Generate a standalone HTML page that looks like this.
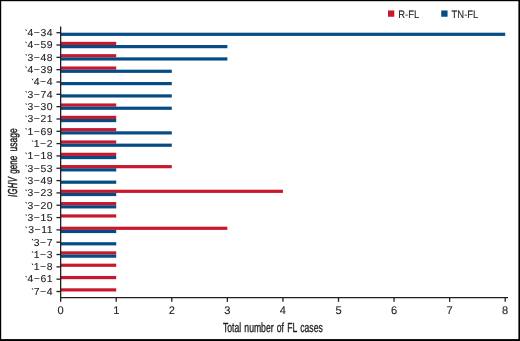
<!DOCTYPE html>
<html><head><meta charset="utf-8"><title>IGHV gene usage</title>
<style>
html,body{margin:0;padding:0;background:#fff;}
body{width:520px;height:341px;overflow:hidden;font-family:"Liberation Sans",sans-serif;}
svg{display:block;will-change:transform;}
text{font-family:"Liberation Sans",sans-serif;fill:#231f20;stroke:#231f20;stroke-width:0.12px;text-rendering:geometricPrecision;}
text.ttl{stroke-width:0.35px;vector-effect:non-scaling-stroke;}
</style></head><body>
<svg width="520" height="341" viewBox="0 0 520 341">
<rect x="0" y="0" width="520" height="341" fill="#ffffff"/>
<g shape-rendering="auto">
<rect x="60.65" y="32.70" width="444.55" height="3.20" fill="#064c84"/>
<rect x="60.65" y="41.82" width="55.57" height="3.20" fill="#c8182e"/>
<rect x="60.65" y="45.02" width="166.71" height="3.20" fill="#064c84"/>
<rect x="60.65" y="54.15" width="55.57" height="3.20" fill="#c8182e"/>
<rect x="60.65" y="57.35" width="166.71" height="3.20" fill="#064c84"/>
<rect x="60.65" y="66.47" width="55.57" height="3.20" fill="#c8182e"/>
<rect x="60.65" y="69.67" width="111.14" height="3.20" fill="#064c84"/>
<rect x="60.65" y="82.00" width="111.14" height="3.20" fill="#064c84"/>
<rect x="60.65" y="94.32" width="111.14" height="3.20" fill="#064c84"/>
<rect x="60.65" y="103.44" width="55.57" height="3.20" fill="#c8182e"/>
<rect x="60.65" y="106.64" width="111.14" height="3.20" fill="#064c84"/>
<rect x="60.65" y="115.77" width="55.57" height="3.20" fill="#c8182e"/>
<rect x="60.65" y="118.97" width="55.57" height="3.20" fill="#064c84"/>
<rect x="60.65" y="128.09" width="55.57" height="3.20" fill="#c8182e"/>
<rect x="60.65" y="131.29" width="111.14" height="3.20" fill="#064c84"/>
<rect x="60.65" y="140.41" width="55.57" height="3.20" fill="#c8182e"/>
<rect x="60.65" y="143.61" width="111.14" height="3.20" fill="#064c84"/>
<rect x="60.65" y="152.74" width="55.57" height="3.20" fill="#c8182e"/>
<rect x="60.65" y="155.94" width="55.57" height="3.20" fill="#064c84"/>
<rect x="60.65" y="165.06" width="111.14" height="3.20" fill="#c8182e"/>
<rect x="60.65" y="168.26" width="55.57" height="3.20" fill="#064c84"/>
<rect x="60.65" y="180.59" width="55.57" height="3.20" fill="#064c84"/>
<rect x="60.65" y="189.71" width="222.28" height="3.20" fill="#c8182e"/>
<rect x="60.65" y="192.91" width="55.57" height="3.20" fill="#064c84"/>
<rect x="60.65" y="202.03" width="55.57" height="3.20" fill="#c8182e"/>
<rect x="60.65" y="205.23" width="55.57" height="3.20" fill="#064c84"/>
<rect x="60.65" y="214.36" width="55.57" height="3.20" fill="#c8182e"/>
<rect x="60.65" y="226.68" width="166.71" height="3.20" fill="#c8182e"/>
<rect x="60.65" y="229.88" width="55.57" height="3.20" fill="#064c84"/>
<rect x="60.65" y="242.20" width="55.57" height="3.20" fill="#064c84"/>
<rect x="60.65" y="251.33" width="55.57" height="3.20" fill="#c8182e"/>
<rect x="60.65" y="254.53" width="55.57" height="3.20" fill="#064c84"/>
<rect x="60.65" y="263.65" width="55.57" height="3.20" fill="#c8182e"/>
<rect x="60.65" y="275.98" width="55.57" height="3.20" fill="#c8182e"/>
<rect x="60.65" y="288.30" width="55.57" height="3.20" fill="#c8182e"/>
</g>
<g stroke="#231f20" stroke-width="1.30" fill="none">
<line x1="60.65" y1="26.54" x2="60.65" y2="301.86"/>
<line x1="60.00" y1="297.66" x2="508.00" y2="297.66"/>
<line x1="56.45" y1="32.70" x2="60.65" y2="32.70"/>
<line x1="56.45" y1="45.02" x2="60.65" y2="45.02"/>
<line x1="56.45" y1="57.35" x2="60.65" y2="57.35"/>
<line x1="56.45" y1="69.67" x2="60.65" y2="69.67"/>
<line x1="56.45" y1="82.00" x2="60.65" y2="82.00"/>
<line x1="56.45" y1="94.32" x2="60.65" y2="94.32"/>
<line x1="56.45" y1="106.64" x2="60.65" y2="106.64"/>
<line x1="56.45" y1="118.97" x2="60.65" y2="118.97"/>
<line x1="56.45" y1="131.29" x2="60.65" y2="131.29"/>
<line x1="56.45" y1="143.61" x2="60.65" y2="143.61"/>
<line x1="56.45" y1="155.94" x2="60.65" y2="155.94"/>
<line x1="56.45" y1="168.26" x2="60.65" y2="168.26"/>
<line x1="56.45" y1="180.59" x2="60.65" y2="180.59"/>
<line x1="56.45" y1="192.91" x2="60.65" y2="192.91"/>
<line x1="56.45" y1="205.23" x2="60.65" y2="205.23"/>
<line x1="56.45" y1="217.56" x2="60.65" y2="217.56"/>
<line x1="56.45" y1="229.88" x2="60.65" y2="229.88"/>
<line x1="56.45" y1="242.20" x2="60.65" y2="242.20"/>
<line x1="56.45" y1="254.53" x2="60.65" y2="254.53"/>
<line x1="56.45" y1="266.85" x2="60.65" y2="266.85"/>
<line x1="56.45" y1="279.18" x2="60.65" y2="279.18"/>
<line x1="56.45" y1="291.50" x2="60.65" y2="291.50"/>
<line x1="116.22" y1="297.66" x2="116.22" y2="301.86"/>
<line x1="171.79" y1="297.66" x2="171.79" y2="301.86"/>
<line x1="227.36" y1="297.66" x2="227.36" y2="301.86"/>
<line x1="282.93" y1="297.66" x2="282.93" y2="301.86"/>
<line x1="338.49" y1="297.66" x2="338.49" y2="301.86"/>
<line x1="394.06" y1="297.66" x2="394.06" y2="301.86"/>
<line x1="449.63" y1="297.66" x2="449.63" y2="301.86"/>
<line x1="505.20" y1="297.66" x2="505.20" y2="301.86"/>
</g>
<g font-size="10.10" text-anchor="end" letter-spacing="0.50">
<text transform="translate(53.00 36.00) scale(1.030 1)">4&#8722;34</text>
<text transform="translate(53.00 48.32) scale(1.030 1)">4&#8722;59</text>
<text transform="translate(53.00 60.65) scale(1.030 1)">3&#8722;48</text>
<text transform="translate(53.00 72.97) scale(1.030 1)">4&#8722;39</text>
<text transform="translate(53.00 85.30) scale(1.030 1)">4&#8722;4</text>
<text transform="translate(53.00 97.62) scale(1.030 1)">3&#8722;74</text>
<text transform="translate(53.00 109.94) scale(1.030 1)">3&#8722;30</text>
<text transform="translate(53.00 122.27) scale(1.030 1)">3&#8722;21</text>
<text transform="translate(53.00 134.59) scale(1.030 1)">1&#8722;69</text>
<text transform="translate(53.00 146.91) scale(1.030 1)">1&#8722;2</text>
<text transform="translate(53.00 159.24) scale(1.030 1)">1&#8722;18</text>
<text transform="translate(53.00 171.56) scale(1.030 1)">3&#8722;53</text>
<text transform="translate(53.00 183.89) scale(1.030 1)">3&#8722;49</text>
<text transform="translate(53.00 196.21) scale(1.030 1)">3&#8722;23</text>
<text transform="translate(53.00 208.53) scale(1.030 1)">3&#8722;20</text>
<text transform="translate(53.00 220.86) scale(1.030 1)">3&#8722;15</text>
<text transform="translate(53.00 233.18) scale(1.030 1)">3&#8722;11</text>
<text transform="translate(53.00 245.50) scale(1.030 1)">3&#8722;7</text>
<text transform="translate(53.00 257.83) scale(1.030 1)">1&#8722;3</text>
<text transform="translate(53.00 270.15) scale(1.030 1)">1&#8722;8</text>
<text transform="translate(53.00 282.48) scale(1.030 1)">4&#8722;61</text>
<text transform="translate(53.00 294.80) scale(1.030 1)">7&#8722;4</text>
</g>
<g stroke="#231f20" stroke-width="1.00" opacity="0.95">
<line x1="25.80" y1="29.40" x2="26.45" y2="30.90"/>
<line x1="25.80" y1="41.72" x2="26.45" y2="43.22"/>
<line x1="25.80" y1="54.05" x2="26.45" y2="55.55"/>
<line x1="25.80" y1="66.37" x2="26.45" y2="67.87"/>
<line x1="32.20" y1="78.70" x2="32.85" y2="80.20"/>
<line x1="25.80" y1="91.02" x2="26.45" y2="92.52"/>
<line x1="25.80" y1="103.34" x2="26.45" y2="104.84"/>
<line x1="25.80" y1="115.67" x2="26.45" y2="117.17"/>
<line x1="25.80" y1="127.99" x2="26.45" y2="129.49"/>
<line x1="32.20" y1="140.31" x2="32.85" y2="141.81"/>
<line x1="25.80" y1="152.64" x2="26.45" y2="154.14"/>
<line x1="25.80" y1="164.96" x2="26.45" y2="166.46"/>
<line x1="25.80" y1="177.29" x2="26.45" y2="178.79"/>
<line x1="25.80" y1="189.61" x2="26.45" y2="191.11"/>
<line x1="25.80" y1="201.93" x2="26.45" y2="203.43"/>
<line x1="25.80" y1="214.26" x2="26.45" y2="215.76"/>
<line x1="25.80" y1="226.58" x2="26.45" y2="228.08"/>
<line x1="32.20" y1="238.90" x2="32.85" y2="240.40"/>
<line x1="32.20" y1="251.23" x2="32.85" y2="252.73"/>
<line x1="32.20" y1="263.55" x2="32.85" y2="265.05"/>
<line x1="25.80" y1="275.88" x2="26.45" y2="277.38"/>
<line x1="32.20" y1="288.20" x2="32.85" y2="289.70"/>
</g>
<g font-size="11.10" text-anchor="middle">
<text transform="translate(60.65 313.50) scale(1.000 1)">0</text>
<text transform="translate(116.22 313.50) scale(1.000 1)">1</text>
<text transform="translate(171.79 313.50) scale(1.000 1)">2</text>
<text transform="translate(227.36 313.50) scale(1.000 1)">3</text>
<text transform="translate(282.93 313.50) scale(1.000 1)">4</text>
<text transform="translate(338.49 313.50) scale(1.000 1)">5</text>
<text transform="translate(394.06 313.50) scale(1.000 1)">6</text>
<text transform="translate(449.63 313.50) scale(1.000 1)">7</text>
<text transform="translate(505.20 313.50) scale(1.000 1)">8</text>
</g>
<text class="ttl" word-spacing="1.30" font-size="13.10" transform="translate(222.90 331.50) scale(0.658 1)">Total number of FL cases</text>
<text class="ttl" font-size="13.00" font-style="italic" letter-spacing="0.70" style="stroke-width:0.50px" transform="translate(17.20 197.10) rotate(-90) scale(0.585 1)">IGHV</text>
<text class="ttl" font-size="12.00" style="stroke-width:0.40px" transform="translate(16.80 173.70) rotate(-90) scale(0.675 1)">gene</text>
<text class="ttl" font-size="12.00" style="stroke-width:0.40px" transform="translate(16.80 151.50) rotate(-90) scale(0.710 1)">usage</text>
<rect x="388.00" y="10.45" width="6.30" height="6.30" fill="#c8182e"/>
<rect x="441.25" y="10.45" width="6.30" height="6.30" fill="#064c84"/>
<text font-size="10.80" transform="translate(398.30 18.15) scale(0.875 1)">R-FL</text>
<text font-size="10.80" transform="translate(451.60 18.15) scale(0.875 1)">TN-FL</text>
<g fill="#000000">
<rect x="0" y="0" width="520" height="1.20"/>
<rect x="0" y="0" width="1.20" height="341"/>
<rect x="518.40" y="0" width="1.60" height="341"/>
<rect x="0" y="339.10" width="520" height="1.90"/>
</g>
</svg>
</body></html>
